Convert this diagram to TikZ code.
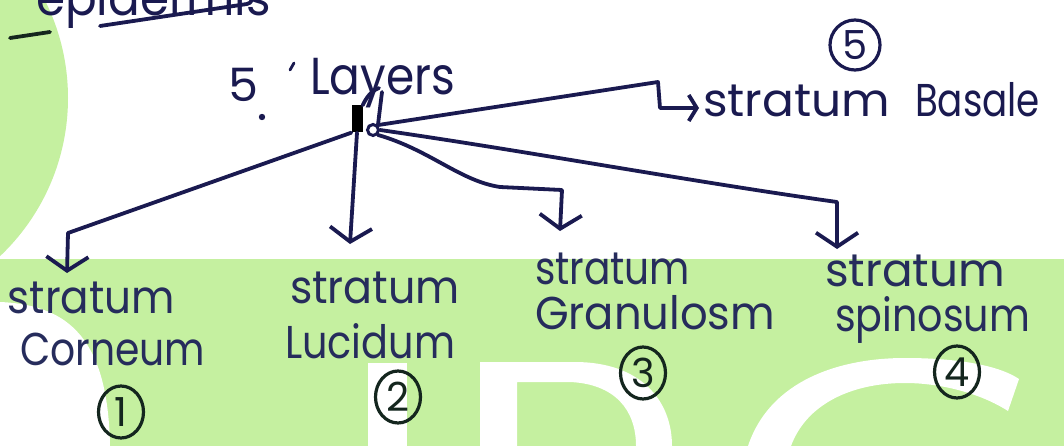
\documentclass[tikz,border=0pt]{standalone}
\usepackage{fontspec}
\setmainfont{Poppins}
\usetikzlibrary{arrows.meta,shapes.geometric}
\definecolor{ink}{RGB}{26,26,80}
\definecolor{inkb}{RGB}{38,44,92}
\definecolor{inkd}{RGB}{20,38,30}
\definecolor{wm}{RGB}{197,240,160}
% handwritten-size word: width, font size, text
\newcommand\hw[3]{\resizebox{#1}{\height}{\fontsize{#2}{#2}\selectfont #3}}

\begin{document}
\begin{tikzpicture}[x=1pt,y=-1pt,
  link/.style={draw=ink, line width=3.8pt, line cap=round, line join=round},
  tip/.style={-{Straight Barb[length=14pt,width=42pt,line width=3.8pt]}},
  smalltip/.style={-{Straight Barb[length=8pt,width=26pt,line width=3.8pt]}},
  lab/.style={inner sep=0pt, outer sep=0pt, anchor=base west, text=ink},
  blab/.style={lab, text=inkb},
  num/.style={ellipse, draw=inkd, line width=3.2pt, inner sep=0pt, text=inkd,
              minimum width=45pt, minimum height=52pt, font=\fontsize{40}{40}\selectfont}
]
\useasboundingbox (0,0) rectangle (1064,446);
\clip (0,0) rectangle (1064,446);
\fill[white] (0,0) rectangle (1064,446);

% ---- green watermark ----
\fill[wm] (-150,98) circle (218);
\fill[wm] (0,259) rectangle (1064,446);
\fill[white] (0,302) .. controls (70,305) and (108,340) .. (110,446) -- (0,446) -- cycle;
\fill[white] (368,363) rectangle (407,446);
\fill[white, even odd rule]
  (480,446) -- (480,362) -- (575,362) .. controls (640,362) and (672,400) .. (672,446) -- cycle
  (517,446) -- (517,382) -- (570,382) .. controls (615,384) and (636,410) .. (636,446) -- cycle;
\fill[white] (748,446) .. controls (770,380) and (840,358) .. (905,358)
  .. controls (960,358) and (1000,366) .. (1019,379) -- (1008,411)
  .. controls (980,393) and (940,383) .. (905,383)
  .. controls (850,383) and (806,405) .. (791,446) -- cycle;

% ---- heading running off the top edge ----
\node[lab] (epi) at (36,16) {\hw{235pt}{50}{epidermis}};
\coordinate (ulA) at (100,26);
\coordinate (ulB) at (247,4);
\draw[link] (ulA) -- (ulB) .. controls (250,3) .. (252,0);
\coordinate (dA) at (10,38);
\coordinate (dB) at (50,32);
\draw[link, draw=inkd] (dA) -- (dB);

% ---- 5. Layers ----
\node[lab] (five) at (228,102) {\hw{30pt}{46}{5}};
\fill[ink] (262,117) circle (3.2);
\draw[link, line width=2.8pt] (290,70) -- (294,63);
\node[lab] (lay) at (310,95) {\hw{145pt}{52}{Layers}};
\node[fill=black, minimum width=11pt, minimum height=27pt, inner sep=0pt] (knot) at (357,119) {};
\node[circle, draw=ink, line width=3pt, minimum size=11pt, inner sep=0pt] (loop) at (373,130) {};
\draw[link] (knot.north east) .. controls (366,98) and (371,91) .. (379,88);
\draw[link] (382,92) -- (loop.north east);

% ---- stratum basale ----
\node[circle, draw=ink, line width=3.2pt, minimum size=50pt, inner sep=0pt,
      text=ink, font=\fontsize{40}{40}\selectfont] (n5) at (855,45) {5};
\node[lab] (sb1) at (703,117) {\hw{187pt}{46}{stratum}};
\node[lab] (sb2) at (915,117) {\hw{125pt}{46}{Basale}};
\coordinate (bB1) at (658,82);
\coordinate (bB2) at (660,108);
\coordinate (tB) at (699,108);
\draw[link, smalltip] (loop.north east) -- (bB1) -- (bB2) -- (tB);

% ---- stratum corneum ----
\node[blab] (sc1) at (8,313) {\hw{167pt}{46}{stratum}};
\node[blab] (sc2) at (20,365) {\hw{185pt}{46}{Corneum}};
\node[num] (n1) at (121,412) {1};
\coordinate (bC) at (68,233);
\coordinate (tC) at (67,273);
\draw[link, tip] (knot.south west) -- (bC) -- (tC);

% ---- stratum lucidum ----
\node[blab] (sl1) at (290,303) {\hw{170pt}{46}{stratum}};
\node[blab] (sl2) at (285,358) {\hw{170pt}{46}{Lucidum}};
\node[num] (n2) at (398,397) {2};
\coordinate (tL) at (350,244);
\draw[link, tip] (knot.south) -- (tL);

% ---- stratum granulosm ----
\node[blab] (sg1) at (535,284) {\hw{155pt}{46}{stratum}};
\node[blab] (sg2) at (535,329) {\hw{240pt}{46}{Granulosm}};
\node[num] (n3) at (643,373) {3};
\coordinate (bG1) at (500,187);
\coordinate (bG2) at (562,190);
\coordinate (tG) at (560,231);
\draw[link, tip] (loop.south east) .. controls (430,150) and (460,181) .. (bG1) -- (bG2) -- (tG);

% ---- stratum spinosum ----
\node[blab] (ss1) at (825,286) {\hw{180pt}{46}{stratum}};
\node[blab] (ss2) at (835,331) {\hw{195pt}{46}{spinosum}};
\node[num] (n4) at (957,372) {4};
\coordinate (bS) at (837,202);
\coordinate (tS) at (837,249);
\draw[link, tip] (loop.east) .. controls (520,150) and (700,183) .. (bS) -- (tS);
\end{tikzpicture}
\end{document}
